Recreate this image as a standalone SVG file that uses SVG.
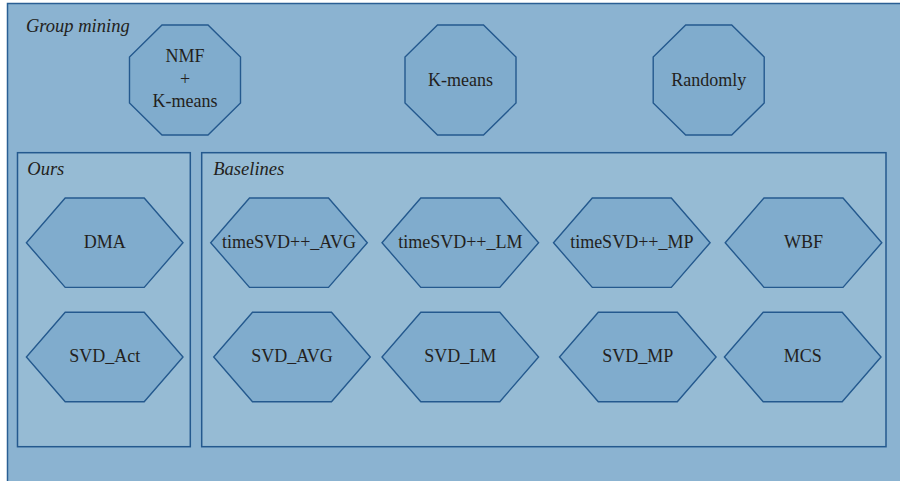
<svg xmlns="http://www.w3.org/2000/svg" width="900" height="481" viewBox="0 0 900 481">
<style>
.bg{fill:#8bb3d1;stroke:#2a5f94;stroke-width:1.5}
.box{fill:#96bbd4;stroke:#24598e;stroke-width:1.5}
.node{fill:#80accd;stroke:#24598e;stroke-width:1.4}
text{font-family:'Liberation Serif','DejaVu Serif',serif;fill:#231f20}
.t{font-size:18px;text-anchor:middle}
.lab{font-size:18.5px;font-style:italic}
</style>
<defs>
<polygon id="oct" points="-23,-55 23,-55 55.5,-23 55.5,23 23,55 -23,55 -55.5,23 -55.5,-23"/>
<polygon id="hex" points="-39.5,-44.7 39.5,-44.7 78.3,0 39.5,44.7 -39.5,44.7 -78.3,0"/>
</defs>
<g id="group-mining">
<rect class="bg" x="7.5" y="3.5" width="900" height="490"/>
<text class="lab" x="26" y="31.5">Group mining</text>
</g>
<g id="ours">
<rect class="box" x="17.5" y="152.7" width="172.8" height="294"/>
<text class="lab" x="27.3" y="174.7">Ours</text>
</g>
<g id="baselines">
<rect class="box" x="201.7" y="152.7" width="684.3" height="294"/>
<text class="lab" x="213.3" y="174.7">Baselines</text>
</g>
<g id="connectors"></g>
<g id="nmf-kmeans"><use href="#oct" class="node" x="185" y="80"/><text class="t" x="185" y="62.3">NMF</text><text class="t" x="185" y="85">+</text><text class="t" x="185" y="106.7">K-means</text></g>
<g id="kmeans"><use href="#oct" class="node" x="460.5" y="80"/><text class="t" x="460.5" y="85.5">K-means</text></g>
<g id="randomly"><use href="#oct" class="node" x="708.7" y="80"/><text class="t" x="708.7" y="85.5">Randomly</text></g>
<g id="dma"><use href="#hex" class="node" x="104.7" y="242.7"/><text class="t" x="104.7" y="248">DMA</text></g>
<g id="svd-act"><use href="#hex" class="node" x="104.7" y="357"/><text class="t" x="104.7" y="362.3">SVD_Act</text></g>
<g id="timesvd-avg"><use href="#hex" class="node" x="289" y="242.7"/><text class="t" x="289" y="248">timeSVD++_AVG</text></g>
<g id="timesvd-lm"><use href="#hex" class="node" x="460.3" y="242.7"/><text class="t" x="460.3" y="248">timeSVD++_LM</text></g>
<g id="timesvd-mp"><use href="#hex" class="node" x="631.8" y="242.7"/><text class="t" x="631.8" y="248">timeSVD++_MP</text></g>
<g id="wbf"><use href="#hex" class="node" x="803.5" y="242.7"/><text class="t" x="803.5" y="248">WBF</text></g>
<g id="svd-avg"><use href="#hex" class="node" x="292" y="357"/><text class="t" x="292" y="362.3">SVD_AVG</text></g>
<g id="svd-lm"><use href="#hex" class="node" x="460.3" y="357"/><text class="t" x="460.3" y="362.3">SVD_LM</text></g>
<g id="svd-mp"><use href="#hex" class="node" x="637.8" y="357"/><text class="t" x="637.8" y="362.3">SVD_MP</text></g>
<g id="mcs"><use href="#hex" class="node" x="802.7" y="357"/><text class="t" x="802.7" y="362.3">MCS</text></g>
</svg>
